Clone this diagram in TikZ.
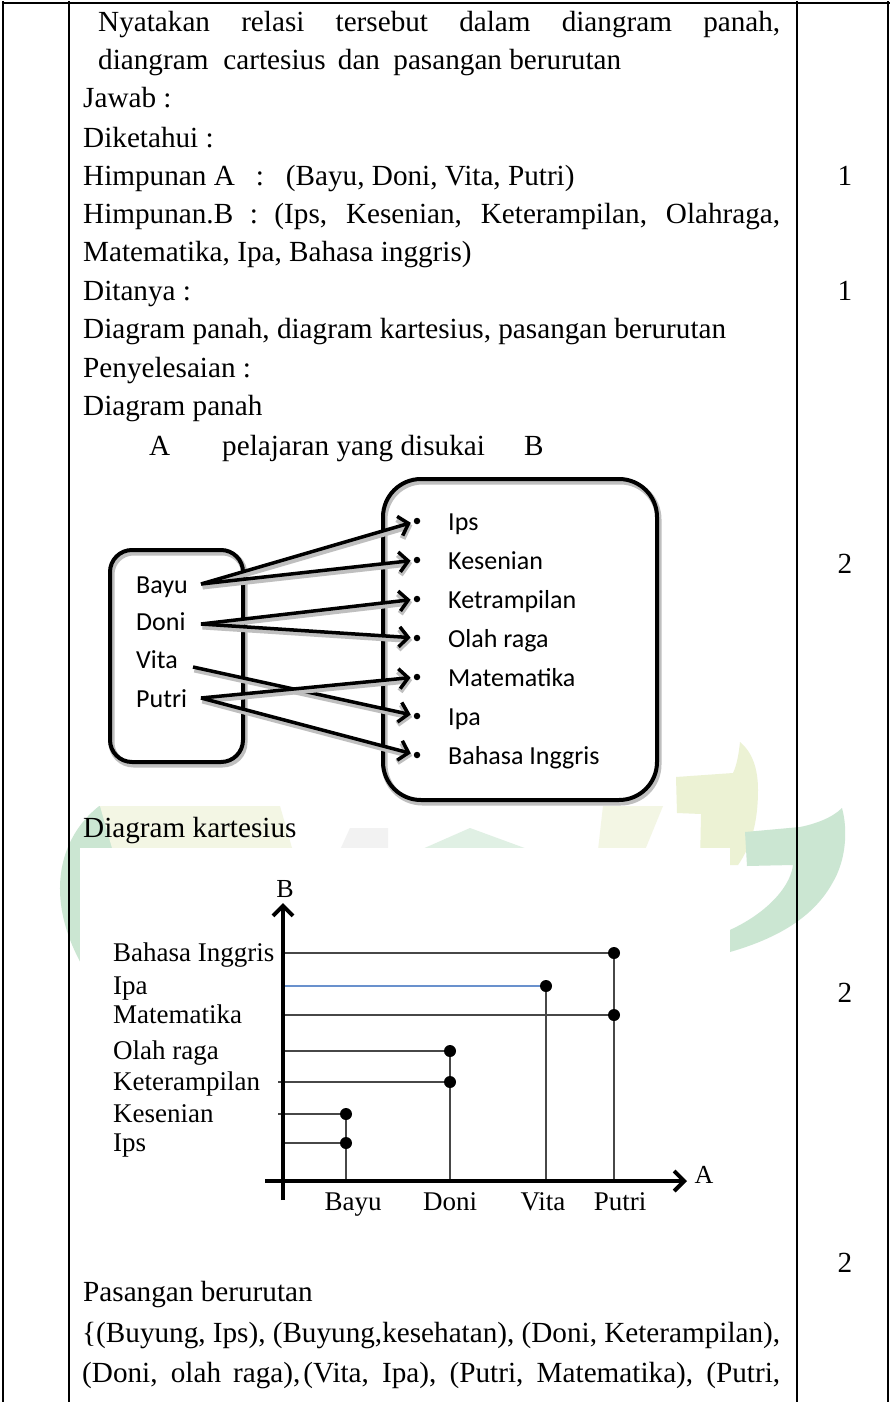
\documentclass[tikz,border=0pt]{standalone}
\usepackage{fontspec}
\setmainfont{Liberation Serif}
\newfontfamily\calfont{Carlito}
\usetikzlibrary{arrows.meta}
\definecolor{wmgreen}{RGB}{203,230,210}
\definecolor{wmyellow}{RGB}{236,242,212}
\definecolor{wmpale}{RGB}{243,246,228}
\definecolor{ipablue}{RGB}{105,145,205}
\begin{document}
\begin{tikzpicture}[x=1pt,y=-1pt,
  txt/.style={anchor=base west, inner sep=0pt, font=\fontsize{29.2}{38}\selectfont},
  num/.style={anchor=base, inner sep=0pt, font=\fontsize{29.2}{38}\selectfont},
  cal/.style={anchor=base west, inner sep=0pt, font=\calfont\fontsize{26}{30}\selectfont},
  clab/.style={anchor=base west, inner sep=0pt, font=\fontsize{27}{30}\selectfont},
  tlab/.style={anchor=base, inner sep=0pt, font=\fontsize{27}{30}\selectfont},
  axlab/.style={anchor=base, inner sep=0pt, font=\fontsize{26}{28}\selectfont},
  setbox/.style={draw, line width=4pt, rounded corners=#1, inner sep=0pt},
  shad/.style={preaction={draw=black!25, line width=6pt, transform canvas={shift={(1.5pt,-2.5pt)}}}},
  bul/.style={circle, fill, inner sep=0pt, minimum size=6.5pt},
  pdot/.style={circle, fill, inner sep=0pt, minimum size=12pt},
  rel/.style={line width=3.5pt, -{Straight Barb[length=9pt,width=20pt]}, shorten >=3pt},
  tline/.style={line width=2.6pt},
  hl/.style={line width=2pt, black!72},
  vl/.style={line width=1.6pt, black!72},
  axis/.style={line width=4pt, -{Straight Barb[length=10pt,width=20pt]}}]
\useasboundingbox (0,0) rectangle (891,1402);
\fill[white] (0,0) rectangle (891,1402);
% faint watermark
\fill[wmgreen] (150,782) .. controls (55,805) and (25,905) .. (110,1005) .. controls (72,925) and (80,845) .. (175,800) -- cycle;
\fill[wmpale] (100,806) -- (280,806) -- (292,848) -- (112,848) -- cycle;
\fill[wmgreen!60] (420,850) -- (470,828) -- (530,850) -- cycle;
\fill[black!5] (340,850) -- (350,828) -- (388,828) -- (388,850) -- cycle;
\fill[wmpale] (603,806) -- (663,806) -- (645,850) -- (598,850) -- cycle;
\fill[wmyellow] (740,742) .. controls (752,752) and (758,768) .. (758,790)
  .. controls (758,820) and (752,845) .. (738,865) -- (700,865) -- (701,814)
  -- (677,813) -- (676,777) -- (733,773) .. controls (737,765) and (739,752) .. (740,742) -- cycle;
\fill[wmgreen] (842,808) .. controls (848,830) and (846,860) .. (833,882)
  .. controls (815,915) and (780,940) .. (715,956) -- (715,936)
  .. controls (760,920) and (790,890) .. (793,865) -- (747,866) -- (745,832)
  -- (800,827) .. controls (815,824) and (832,818) .. (842,808) -- cycle;
\fill[white] (80,470) rectangle (668,806);
\fill[white] (80,848) rectangle (730,1240);
% table
\draw[tline] (1.5,3) -- (889.5,3);
\draw[tline] (3,1.5) -- (3,1402);
\draw[tline] (69,1.5) -- (69,1402);
\draw[tline] (797,1.5) -- (797,1402);
\draw[tline] (888,1.5) -- (888,1402);
% text
\node[txt] (q1) at (98,32) {\makebox[682pt][s]{Nyatakan relasi tersebut dalam diangram panah,}};
\node[txt] (q2) at (98,70) {diangram\hspace{7.7pt} cartesius\hspace{5pt} dan\hspace{6pt} pasangan berurutan};
\node[txt] (jw) at (83,108) {Jawab :};
\node[txt] (dk) at (83,147) {Diketahui :};
\node[txt] (ha) at (83,185) {Himpunan A\hspace{21pt}:\hspace{22pt}(Bayu, Doni, Vita, Putri)};
\node[txt] (hb) at (83,223) {\makebox[697pt][s]{Himpunan.B : (Ips, Kesenian, Keterampilan, Olahraga,}};
\node[txt] (hb2) at (83,261) {Matematika, Ipa, Bahasa inggris)};
\node[txt] (dt) at (83,300) {Ditanya :};
\node[txt] (dt2) at (83,338) {Diagram panah, diagram kartesius, pasangan berurutan};
\node[txt] (py) at (83,377) {Penyelesaian :};
\node[txt] (dp) at (83,415) {Diagram panah};
\node[txt] (hA) at (149,455) {A};
\node[txt] (hrel) at (222,455) {pelajaran yang disukai};
\node[txt] (hB) at (524,455) {B};
\node[num] (s1) at (845,185) {1};
\node[num] (s2) at (845,300) {1};
\node[num] (s3) at (845,573) {2};
\node[num] (s4) at (845,1002) {2};
\node[num] (s5) at (845,1272) {2};
\node[txt] (dkt) at (83,837) {Diagram kartesius};
\node[txt] (pb) at (83,1301) {Pasangan berurutan};
\node[txt] (pb1) at (82,1342) {\makebox[698pt][s]{\{(Buyung, Ips), (Buyung,kesehatan), (Doni, Keterampilan),}};
\node[txt] (pb2) at (82,1382) {\makebox[698pt][s]{(Doni, olah raga),\hspace{3pt}(Vita, Ipa), (Putri, Matematika), (Putri,}};
% arrow diagram
\node[setbox=22pt, shad, minimum width=133pt, minimum height=212pt] (setA) at (176.5,656) {};
\node[setbox=38pt, shad, minimum width=274pt, minimum height=321pt] (setB) at (520,639.5) {};
\node[cal] (nBayu) at (136,593) {Bayu};
\node[cal] (nDoni) at (136,630) {Doni};
\node[cal] (nVita) at (136,668) {Vita};
\node[cal] (nPutri) at (136,707) {Putri};
\node[bul] (bIps) at (417,521) {};
\node[bul] (bKes) at (417,560) {};
\node[bul] (bKet) at (417,599) {};
\node[bul] (bOlah) at (417,638) {};
\node[bul] (bMat) at (417,677) {};
\node[bul] (bIpa) at (417,716) {};
\node[bul] (bBah) at (417,755) {};
\node[cal] (tIps) at (448,530) {Ips};
\node[cal] (tKes) at (448,569) {Kesenian};
\node[cal] (tKet) at (448,608) {Ketrampilan};
\node[cal] (tOlah) at (448,647) {Olah raga};
\node[cal] (tMat) at (448,686) {Matematika};
\node[cal] (tIpa) at (448,725) {Ipa};
\node[cal] (tBah) at (448,764) {Bahasa Inggris};
\coordinate (sBayu) at (201,584);
\coordinate (sDoni) at (201,624);
\coordinate (sVita) at (193,667);
\coordinate (sPutri) at (201,698);
\draw[rel, shad] (sBayu) -- (bIps);
\draw[rel, shad] (sBayu) -- (bKes);
\draw[rel, shad] (sDoni) -- (bKet);
\draw[rel, shad] (sDoni) -- (bOlah);
\draw[rel, shad] (sVita) -- (bIpa);
\draw[rel, shad] (sPutri) -- (bMat);
\draw[rel, shad] (sPutri) -- (bBah);
% cartesian diagram
\coordinate (yb) at (283,1200);
\coordinate (yt) at (283,903);
\coordinate (xl) at (265,1181);
\coordinate (xr) at (687,1181);
\node[axlab] (Blab) at (285,897) {B};
\node[axlab] (Alab) at (704,1183) {A};
\node[clab] (lBah) at (113,961) {Bahasa Inggris};
\node[clab] (lIpa) at (113,994) {Ipa};
\node[clab] (lMat) at (113,1023) {Matematika};
\node[clab] (lOlah) at (113,1059) {Olah raga};
\node[clab] (lKet) at (113,1090) {Keterampilan};
\node[clab] (lKes) at (113,1122) {Kesenian};
\node[clab] (lIps) at (113,1151) {Ips};
\node[tlab] (tBayu) at (353,1210) {Bayu};
\node[tlab] (tDoni) at (450,1210) {Doni};
\node[tlab] (tVita) at (543,1210) {Vita};
\node[tlab] (tPutri) at (620,1210) {Putri};
\node[pdot] (dBah) at (614,953) {};
\node[pdot] (dIpa) at (546,986) {};
\node[pdot] (dMat) at (614,1015) {};
\node[pdot] (dOlah) at (450,1051) {};
\node[pdot] (dKet) at (450,1082) {};
\node[pdot] (dKes) at (346,1114) {};
\node[pdot] (dIps) at (346,1143) {};
\coordinate (yBah) at (283,953);
\coordinate (yIpa) at (283,986);
\coordinate (yMat) at (283,1015);
\coordinate (yOlah) at (285,1051);
\coordinate (yKet) at (278,1082);
\coordinate (yKes) at (278,1114);
\coordinate (yIps) at (285,1143);
\coordinate (aBayu) at (346,1181);
\coordinate (aDoni) at (450,1181);
\coordinate (aVita) at (546,1181);
\coordinate (aPutri) at (614,1181);
\draw[hl] (yBah) -- (dBah);
\draw[ipablue, line width=1.8pt] (yIpa) -- (dIpa);
\draw[hl] (yMat) -- (dMat);
\draw[hl] (yOlah) -- (dOlah);
\draw[hl] (yKet) -- (dKet);
\draw[hl] (yKes) -- (dKes);
\draw[hl] (yIps) -- (dIps);
\draw[vl] (dBah) -- (dMat) -- (aPutri);
\draw[vl] (dIpa) -- (aVita);
\draw[vl] (dOlah) -- (dKet) -- (aDoni);
\draw[vl] (dKes) -- (dIps) -- (aBayu);
\draw[axis] (yb) -- (yt);
\draw[axis] (xl) -- (xr);
\end{tikzpicture}
\end{document}
